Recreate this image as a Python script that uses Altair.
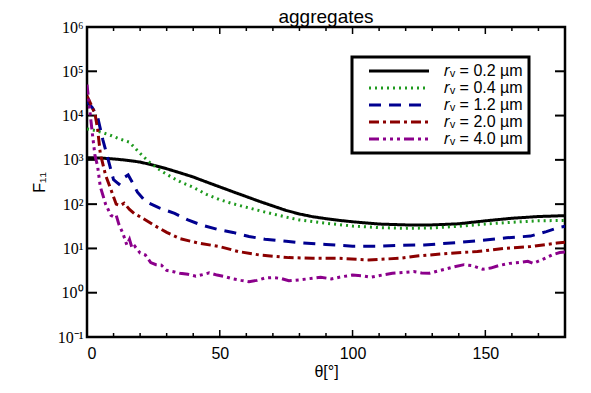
import altair as alt
import pandas as pd

# ---------------- data ----------------
labels = ["𝑟ᵥ = 0.2 µm", "𝑟ᵥ = 0.4 µm", "𝑟ᵥ = 1.2 µm", "𝑟ᵥ = 2.0 µm", "𝑟ᵥ = 4.0 µm"]
colors = ["#000000", "#1e9a1e", "#000090", "#8b0000", "#8b008b"]
dashes = [[1, 0], [2, 4], [12, 8], [10, 4, 3, 4], [10, 4, 3, 4, 3, 4, 3, 4]]

theta_02 = [0, 5, 10, 15, 20, 25, 30, 35, 40, 45, 50, 55, 60, 65, 70, 75, 80, 85, 90, 95,
            100, 110, 120, 130, 140, 150, 160, 170, 180]
f_02 = [1120, 1100, 1050, 980, 890, 760, 630, 510, 410, 316, 245, 190, 148, 115, 91, 72,
        60, 52, 47, 43, 40, 35.5, 34, 34, 36, 42, 48, 52.5, 55]

theta_04 = [0, 3, 6, 9, 12, 16, 20, 24, 28, 32, 36, 40, 45, 50, 55, 60, 65, 70, 75, 80,
            90, 100, 110, 120, 130, 140, 150, 160, 170, 180]
f_04 = [5000, 4600, 4100, 3550, 3000, 2500, 1400, 830, 560, 400, 300, 240, 166, 126, 102,
        85, 71, 60, 51, 44, 37, 32, 29.5, 28.5, 29, 31.6, 35.5, 39, 42, 43]

theta_12 = [0, 2, 4, 6, 8, 10, 12, 14, 15.5, 17, 19, 22, 27, 33, 38, 43, 49, 55, 61, 67,
            75, 80, 90, 100, 110, 118, 127, 139, 150, 158, 167, 173, 178, 180]
f_12 = [20400, 15100, 9300, 2800, 1000, 355, 282, 400, 457, 316, 186, 115, 83, 62, 44, 34,
        27, 23, 18.6, 16.2, 14.5, 13.5, 12.3, 11.2, 11.2, 11.7, 12, 13.5, 15.5, 17.4, 19,
        24, 30, 31.6]

theta_20 = [0, 1.5, 3, 4, 5, 7, 9, 11, 12.5, 14, 16, 18, 20, 25, 30, 35, 42, 50, 57, 65,
            76, 85, 95, 106, 118, 125, 137, 147, 157, 167, 177, 180]
f_20 = [28000, 17800, 11000, 5000, 1400, 450, 214, 100, 93, 105, 76, 60, 52, 34, 23, 16.6,
        13.2, 11, 8.5, 7.1, 6.2, 6.0, 6.0, 5.5, 6.0, 6.8, 7.8, 8.5, 10, 11, 13.2, 13.8]

theta_40 = [0, 1, 2, 3, 4, 5, 7, 9, 10, 11, 12, 13.5, 15, 16, 17, 18, 20, 22, 24, 26, 28,
            30, 33, 35, 38, 41, 44, 46, 49, 52, 55, 58, 61, 64, 67, 70, 73, 76, 80, 83, 88,
            92, 96, 100, 104, 107, 111, 115, 120, 123, 126, 129, 134, 138, 142, 145, 149,
            152, 155, 159, 163, 166, 168, 172, 175, 178, 180]
f_40 = [50000, 14000, 4000, 1260, 710, 250, 100, 56, 52, 56, 35, 22, 12, 16, 10, 11.2, 7.9,
        7.1, 4.8, 4.3, 4.2, 3.2, 2.95, 2.75, 2.6, 2.35, 2.6, 2.8, 2.5, 2.3, 2.05, 1.9, 1.78,
        1.9, 2.14, 2.2, 2.1, 1.86, 1.95, 2.05, 2.24, 2.05, 2.3, 2.5, 2.4, 2.24, 2.5, 2.75,
        2.9, 3.0, 2.8, 2.75, 3.3, 3.8, 4.3, 4.1, 3.4, 3.6, 4.1, 4.6, 4.8, 5.1, 4.6, 5.8, 7.1,
        8.1, 8.3]

x_major_ticks = [0, 50, 100, 150]
x_minor_ticks = [10, 20, 30, 40, 60, 70, 80, 90, 110, 120, 130, 140, 160, 170]
y_major_ticks = [0.1, 1, 10, 100, 1000, 10000, 100000, 1000000]
y_tick_exponents = ["⁻¹", "⁰", "¹", "²", "³", "⁴", "⁵", "⁶"]

# ---------------- tables ----------------
rows = []
for lab, th, ff in zip(labels,
                       [theta_02, theta_04, theta_12, theta_20, theta_40],
                       [f_02, f_04, f_12, f_20, f_40]):
    for t, f in zip(th, ff):
        rows.append({"theta": t, "F": f, "series": lab})
df = pd.DataFrame(rows)

W, H = 478, 310
xscale = alt.Scale(domain=[0, 180], nice=False, zero=False)
yscale = alt.Scale(type="log", domain=[0.1, 1e6], nice=False)

exp_js = "[" + ",".join("'" + e + "'" for e in y_tick_exponents) + "]"
label_expr = "'10' + " + exp_js + "[round(log(datum.value)/LN10) + 1]"

leg = alt.Legend(
    title=None, orient="none", legendX=265, legendY=30, direction="vertical",
    symbolType="M0.6,0H12.6", symbolSize=100, symbolStrokeWidth=3,
    labelFont="Liberation Sans", labelFontSize=16, labelColor="black",
    labelOffset=70, padding=6, rowPadding=1,
    strokeColor="black", fillColor="white",
)

lines = alt.Chart(df).mark_line(strokeWidth=3, clip=True).encode(
    x=alt.X("theta:Q", scale=xscale,
            axis=alt.Axis(values=x_major_ticks, title="θ[°]", ticks=False, domain=False,
                          grid=False, labelFont="Liberation Sans", labelFontSize=16,
                          labelPadding=8, labelColor="black", titleFont="Liberation Sans",
                          titleFontSize=16, titleFontWeight="normal", titleColor="black",
                          titlePadding=2)),
    y=alt.Y("F:Q", scale=yscale,
            axis=alt.Axis(values=y_major_ticks, labelExpr=label_expr, title="F₁₁",
                          ticks=False, domain=False, grid=False,
                          labelFont="Liberation Serif", labelFontSize=16, labelPadding=4,
                          labelColor="black", titleFont="Liberation Sans", titleFontSize=16,
                          titleFontWeight="normal", titleColor="black", titlePadding=10)),
    color=alt.Color("series:N", scale=alt.Scale(domain=labels, range=colors), legend=leg),
    strokeDash=alt.StrokeDash("series:N", scale=alt.Scale(domain=labels, range=dashes),
                              legend=leg),
    order=alt.Order("theta:Q"),
)

xmaj = pd.DataFrame({"theta": x_major_ticks})
xmin = pd.DataFrame({"theta": x_minor_ticks})
ymaj = pd.DataFrame({"F": y_major_ticks})

tick_bottom_major = alt.Chart(xmaj).mark_rule(color="black", strokeWidth=1.5).encode(
    x="theta:Q", y=alt.value(H), y2=alt.value(H - 7))
tick_top_major = alt.Chart(xmaj).mark_rule(color="black", strokeWidth=1.5).encode(
    x="theta:Q", y=alt.value(0), y2=alt.value(7))
tick_bottom_minor = alt.Chart(xmin).mark_rule(color="black", strokeWidth=1.5).encode(
    x="theta:Q", y=alt.value(H), y2=alt.value(H - 4))
tick_top_minor = alt.Chart(xmin).mark_rule(color="black", strokeWidth=1.5).encode(
    x="theta:Q", y=alt.value(0), y2=alt.value(4))
tick_left = alt.Chart(ymaj).mark_rule(color="black", strokeWidth=2).encode(
    y="F:Q", x=alt.value(0), x2=alt.value(10))
tick_right = alt.Chart(ymaj).mark_rule(color="black", strokeWidth=2).encode(
    y="F:Q", x=alt.value(W), x2=alt.value(W - 10))

chart = alt.layer(
    tick_bottom_major, tick_top_major, tick_bottom_minor, tick_top_minor,
    tick_left, tick_right, lines,
).properties(
    width=W, height=H,
    title=alt.TitleParams("aggregates", font="Liberation Sans", fontSize=19,
                          fontWeight="normal", color="black", anchor="middle", offset=-8),
    autosize=alt.AutoSizeParams(type="none"),
    padding={"left": 79, "top": 19, "right": 18, "bottom": 46},
).configure_view(
    stroke="black", strokeWidth=2.5,
).configure_legend(
    strokeWidth=3,
)

chart.save("out.html", embed_options={"renderer": "svg", "actions": False})
